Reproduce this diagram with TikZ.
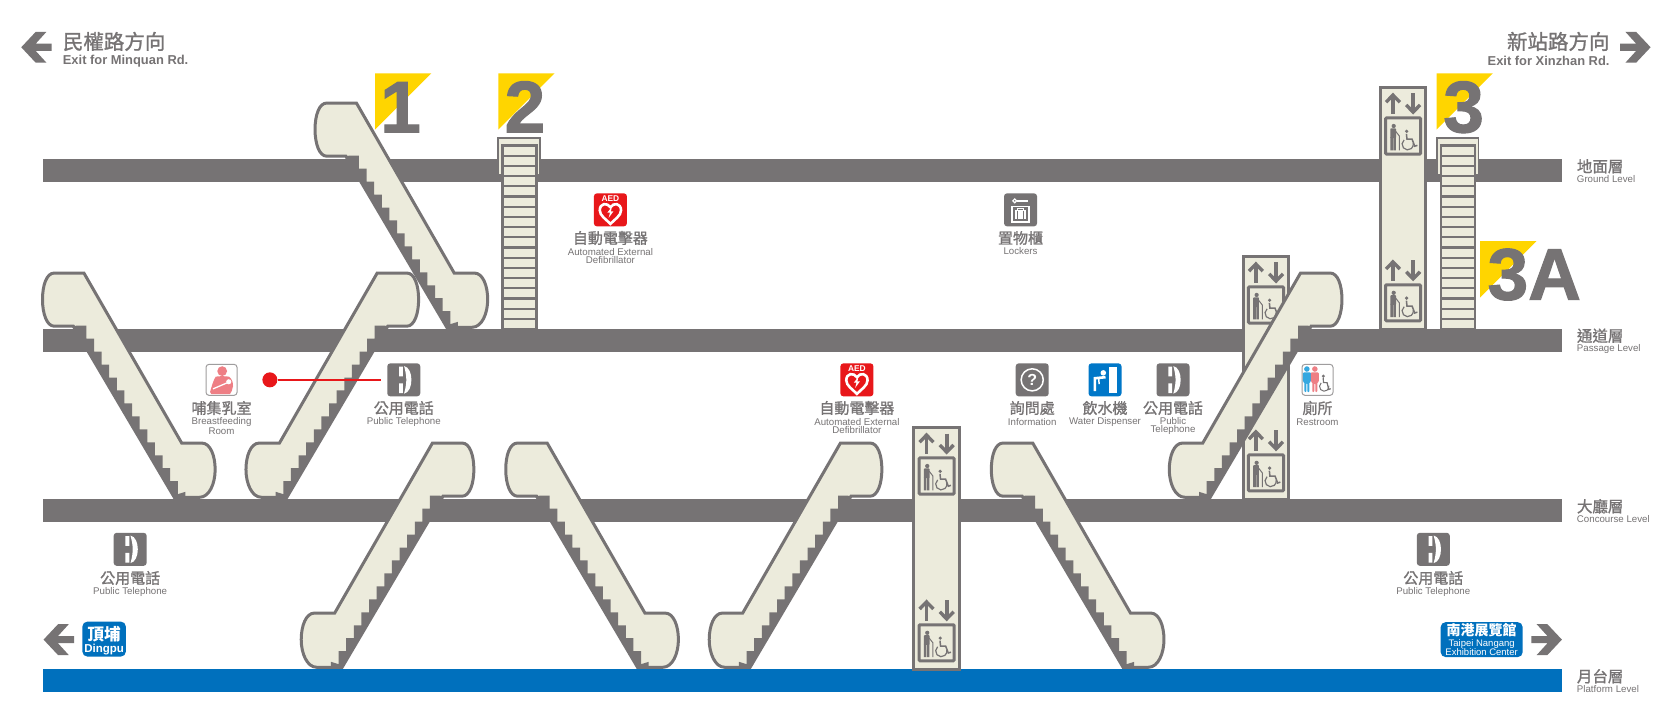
\documentclass[tikz,border=0pt]{standalone}
\usepackage{fontspec}
\setmainfont{Liberation Sans}
\newfontfamily\cjk{Noto Sans CJK TC}[FakeBold=1.2]
\newfontfamily\cjkb{Noto Sans CJK TC}
\newfontfamily\numfont{Liberation Sans}[BoldFeatures={FakeBold=1.5}]
\definecolor{barG}{HTML}{767374}
\definecolor{cream}{HTML}{ECEBDC}
\definecolor{lineB}{HTML}{0070BD}
\definecolor{flagY}{HTML}{FFD500}
\definecolor{sigR}{HTML}{E8171A}
\definecolor{pinkP}{HTML}{EE7F85}
\definecolor{manB}{HTML}{35A8E0}
\definecolor{waterB}{HTML}{0077C8}
\tikzset{
  levelbar/.style={fill=barG,draw=none},
  outl/.style={draw=barG,line width=3pt,fill=cream,line join=miter},
  flag/.style={fill=flagY,draw=none},
  num/.style={text=barG,font=\numfont\bfseries\fontsize{73}{73}\selectfont,inner sep=0pt,anchor=base},
  zhbig/.style={text=barG,font=\cjk\fontsize{20.5}{21}\selectfont,inner sep=0pt},
  enbig/.style={text=barG,font=\bfseries\fontsize{12.9}{13}\selectfont,inner sep=0pt},
  zhlv/.style={text=barG,font=\cjk\fontsize{15.5}{16}\selectfont,inner sep=0pt},
  zhic/.style={text=barG,font=\cjk\fontsize{15}{16}\selectfont,inner sep=0pt},
  enic/.style={text=barG,font=\fontsize{9.7}{8.4}\selectfont,inner sep=0pt,align=center},
  ibox/.style={rounded corners=3pt,minimum width=33pt,minimum height=33pt,inner sep=0pt,draw=none},
  esc/.pic={
    \path[outl] (0,0) -- (92,160) -- (111,160) .. controls (119,160) and (123.5,172) .. (123.5,185)
      .. controls (123.5,198) and (118,211) .. (109,211) -- (85,211) -- (-10,50) -- (-28,50)
      .. controls (-35,50) and (-39,38) .. (-39,25) .. controls (-39,11) and (-35,0) .. (-28,0) -- cycle;
    \fill[barG] (-10,50) -- (-6.8,49.5)
      \foreach \k in {0,...,12} { -- ({2.3+7.17*\k},{49.5+12.2*\k}) -- ({2.3+7.17*\k},{49.5+12.2*(\k+1)}) }
      -- (95.5,205.9) -- (95.5,212) -- (85,212) -- cycle;
  },
  stairway/.pic={
    \path[draw=barG,line width=1.8pt,fill=cream] (-4,-7) rectangle (35,28);
    \path[draw=barG,line width=2.4pt,fill=cream] (0,0) rectangle (32,173);
    \foreach \i in {1,...,17} \draw[barG,line width=2.2pt] (0,{\i*9.6}) -- (32,{\i*9.6});
  },
  liftgroup/.pic={
    \draw[barG,line width=3.8pt] (-9.5,19) -- (-9.5,2);
    \draw[barG,line width=3.4pt] (-16,8.2) -- (-9.5,1.5) -- (-3,8.2);
    \draw[barG,line width=3.8pt] (9.5,0) -- (9.5,17);
    \draw[barG,line width=3.4pt] (3,10.8) -- (9.5,17.5) -- (16,10.8);
    \draw[barG,line width=3pt,fill=cream,rounded corners=1pt] (-16.5,23) rectangle (16.5,57);
    \begin{scope}[shift={(0,40)}]
      \fill[barG] (-8.8,-9.4) circle (2);
      \fill[barG,rounded corners=0.8pt] (-12,-7.2) rectangle (-6.6,2);
      \fill[barG] (-12,1) rectangle (-9.6,13.5) (-9.0,1) rectangle (-6.8,13.5);
      \draw[barG,line width=1pt] (-7,-4.5) -- (-3.5,0) -- (-3.5,13.5);
      \fill[barG] (3.4,-4.4) circle (1.7);
      \draw[barG,line width=1.5pt] (3.2,-2) -- (3.7,3) -- (8.5,3) -- (11,9.6) -- (13.5,8.8);
      \draw[barG,line width=1.2pt] (1,3.7) arc[start angle=-130,end angle=-370,radius=5.3];
    \end{scope}
  },
  exitarrow/.pic={
    \fill[barG] (0,0) -- (13.6,-14.5) -- (23.7,-14.5) -- (13.6,-3.4) -- (28.7,-3.4) -- (28.7,3.4)
      -- (13.6,3.4) -- (23.7,14.5) -- (13.6,14.5) -- cycle;
  },
  phoneglyph/.pic={
    \fill[white] (-4.4,-12.5) rectangle (-0.8,-3.2) (-4.4,3.4) rectangle (-0.8,12.5);
    \fill[white] (0.3,-13) .. controls (5,-12) and (7.2,-6) .. (7.2,0) .. controls (7.2,6) and (5,12) .. (0.3,13)
      .. controls (2,7) and (2.4,3) .. (2.4,0) .. controls (2.4,-3) and (2,-7) .. (0.3,-13) -- cycle;
  },
  aedglyph/.pic={
    \node[text=white,font=\bfseries\fontsize{8.4}{9}\selectfont,inner sep=0pt] (aedt) at (0,-10.4) {AED};
    \draw[white,line width=2.6pt] (0,-2.5) .. controls (-3,-7) and (-10,-6.5) .. (-10,0.5) .. controls (-10,5.5) and (-4,9) .. (0,13.2)
      .. controls (4,9) and (10,5.5) .. (10,0.5) .. controls (10,-6.5) and (3,-7) .. (0,-2.5) -- cycle;
    \fill[white] (1.5,-3) -- (-2.8,2.5) -- (-0.4,2.5) -- (-1.6,7.5) -- (2.8,1.5) -- (0.4,1.5) -- cycle;
  },
  personshape/.pic={
    \fill (0,-10.2) circle (2.6);
    \fill[rounded corners=1pt] (-3.8,-7) -- (3.8,-7) -- (3.8,2) -- (2.4,2) -- (2.4,11.5) -- (0.4,11.5) -- (0.4,3) -- (-0.4,3) -- (-0.4,11.5) -- (-2.4,11.5) -- (-2.4,2) -- (-3.8,2) -- cycle;
  }
}
\begin{document}
\begin{tikzpicture}[x=1.0625pt,y=-1.0625pt]
\useasboundingbox (0,0) rectangle (1568,673);
\fill[white] (0,0) rectangle (1568,673);
% level bars
\fill[levelbar] (40,150) rectangle (1470,171);
\fill[levelbar] (40,310) rectangle (1470,331);
\fill[levelbar] (40,470) rectangle (1470,491);
\fill[lineB] (40,630) rectangle (1470,651);
% flags
\fill[flag] (353,69) -- (406,69) -- (353,122) -- cycle;
\fill[flag] (469,69) -- (522,69) -- (469,122) -- cycle;
\fill[flag] (1352,69) -- (1405,69) -- (1352,122) -- cycle;
\fill[flag] (1393,227) -- (1446,227) -- (1393,280) -- cycle;
\node[num] (n1) at (377,124.5) {1};
\node[num] (n2) at (494,124.5) {2};
\node[num] (n3) at (1377.5,124.5) {3};
\node[num] (n3a) at (1444,282) {3A};
% stairs
\pic at (473,137) {stairway};
\pic at (1356.5,137) {stairway};
% lifts
\path[outl] (860,402) rectangle (903,630);
\path[outl] (1299,82) rectangle (1342,310);
\path[outl] (1170,241) rectangle (1213,470);
\foreach \cx/\ty in {881.5/408,881.5/565,1320.5/88,1320.5/245,1191.5/247,1191.5/405}
  \pic at (\cx,\ty) {liftgroup};
% escalators
\foreach \cx/\ty in {335.5/97,79/257,515/417,972/417}
  \pic at (\cx,\ty) {esc};
\foreach \cx/\ty in {355/257,407/417,791/417,1224/257}
  \pic[xscale=-1] at (\cx,\ty) {esc};
% headers
\pic at (20,44.5) {exitarrow};
\pic[xscale=-1] at (1553.5,44.5) {exitarrow};
\node[zhbig,anchor=west] (hl) at (59,39) {民權路方向};
\node[enbig,anchor=west] (hle) at (59,57.5) {Exit for Minquan Rd.};
\node[zhbig,anchor=east] (hr) at (1515,39) {新站路方向};
\node[enbig,anchor=east] (hre) at (1515,57.5) {Exit for Xinzhan Rd.};
% level labels
\node[zhlv,anchor=west] (l1) at (1484,156.5) {地面層};
\node[enic,anchor=west] (l1e) at (1484,168.5) {Ground Level};
\node[zhlv,anchor=west] (l2) at (1484,316) {通道層};
\node[enic,anchor=west] (l2e) at (1484,328) {Passage Level};
\node[zhlv,anchor=west] (l3) at (1484,476.5) {大廳層};
\node[enic,anchor=west] (l3e) at (1484,488.5) {Concourse Level};
\node[zhlv,anchor=west] (l4) at (1484,636.5) {月台層};
\node[enic,anchor=west] (l4e) at (1484,648.5) {Platform Level};
% AED upper
\node[ibox,fill=sigR] (aed1) at (574.5,197.5) {};
\pic at (aed1) {aedglyph};
\node[zhic] (aed1z) at (574.5,224) {自動電擊器};
\node[enic] (aed1e) at (574.5,241) {Automated External\\Defibrillator};
% lockers
\node[ibox,fill=barG] (lock) at (960.5,197.5) {};
\begin{scope}[shift={(960.5,197.5)}]
  \draw[white,line width=1.2pt] (-5.5,-8.5) circle (1.8);
  \draw[white,line width=1.6pt] (-3.8,-8.5) -- (7,-8.5);
  \draw[white,line width=1.2pt] (-8,-3.5) rectangle (8,11.5);
  \fill[white] (-5,0.5) rectangle (5,9);
  \draw[white,line width=0.9pt] (-2.5,0.5) -- (-2.5,-1.5) -- (2.5,-1.5) -- (2.5,0.5);
  \draw[barG,line width=0.8pt] (-2.5,1) -- (-2.5,9) (2.5,1) -- (2.5,9);
\end{scope}
\node[zhic] (lockz) at (960.5,224) {置物櫃};
\node[enic] (locke) at (960.5,236.5) {Lockers};
% breastfeeding
\node[ibox,fill=white,draw=barG!70,line width=1pt,minimum width=31pt,minimum height=31pt] (bf) at (208.5,357.5) {};
\begin{scope}[shift={(208.5,357.5)}]
  \fill[pinkP] (0.6,-8.2) circle (4.6);
  \fill[pinkP] (-5.5,-3) .. controls (-2,-3.6) and (3,-3.6) .. (7,-3) .. controls (10,-1) and (11,3) .. (10.8,6)
    .. controls (10.5,9) and (9,12) .. (8,13.4) -- (-9.5,13.4) -- (-10.8,11.5) .. controls (-9.5,7) and (-8,1) .. (-5.5,-3) -- cycle;
  \draw[white,line width=1.3pt] (-8,8.5) -- (6,2.5);
  \fill[white] (6.8,1.8) circle (2.4);
\end{scope}
\node[zhic] (bfz) at (208.5,384) {哺集乳室};
\node[enic] (bfe) at (208.5,401) {Breastfeeding\\Room};
% telephone with pointer
\node[ibox,fill=barG] (tel1) at (380,357.5) {};
\pic at (tel1) {phoneglyph};
\node[zhic] (tel1z) at (380,384) {公用電話};
\node[enic] (tel1e) at (380,397.5) {Public Telephone};
\node[circle,fill=sigR,minimum size=15pt,inner sep=0pt] (dot) at (254,357.5) {};
\draw[sigR,line width=1.8pt,shorten >=6pt] (dot) -- (tel1);
% AED lower
\node[ibox,fill=sigR] (aed2) at (806.5,357.5) {};
\pic at (aed2) {aedglyph};
\node[zhic] (aed2z) at (806.5,384) {自動電擊器};
\node[enic] (aed2e) at (806.5,401) {Automated External\\Defibrillator};
% information
\node[ibox,fill=barG] (info) at (971.5,357.5) {};
\draw[white,line width=1.5pt] (971.5,357.5) circle (10.4);
\node[text=white,font=\bfseries\fontsize{16}{16}\selectfont,inner sep=0pt] (infoq) at (971.5,357.5) {?};
\node[zhic] (infoz) at (971.5,384) {詢問處};
\node[enic] (infoe) at (971.5,397.5) {Information};
% water
\node[ibox,fill=waterB] (water) at (1040,357.5) {};
\begin{scope}[shift={(1040,357.5)}]
  \fill[white] (3.9,-11.8) rectangle (11.4,12);
  \fill[white] (-1.6,-6.6) circle (2.6);
  \draw[white,line width=2.6pt] (-9.5,10.5) -- (-9.5,-1.5) -- (0.5,-2.5);
  \draw[white,line width=1.5pt] (-6,-2) -- (-5.5,4);
\end{scope}
\node[zhic] (waterz) at (1040,384) {飲水機};
\node[enic] (watere) at (1040,397.5) {Water Dispenser};
% telephone
\node[ibox,fill=barG] (tel2) at (1104,357.5) {};
\pic at (tel2) {phoneglyph};
\node[zhic] (tel2z) at (1104,384) {公用電話};
\node[enic] (tel2e) at (1104,401) {Public\\Telephone};
% restroom
\node[ibox,fill=white,draw=barG!70,line width=1pt,minimum width=31pt,minimum height=31pt] (wc) at (1240,357.5) {};
\begin{scope}[shift={(1240,357.5)}]
  \pic[manB] at (-10,0) {personshape};
  \pic[pinkP] at (-2.5,0) {personshape};
  \fill[barG] (5.5,-3.5) circle (1.6);
  \draw[barG,line width=1.2pt] (5.4,-2) -- (5.6,2.6) -- (9,2.6) -- (10.5,9) -- (12.5,8.4);
  \draw[barG,line width=1pt] (3.47,2.93) arc[start angle=-130,end angle=-370,radius=4.4];
\end{scope}
\node[zhic] (wcz) at (1240,384) {廁所};
\node[enic] (wce) at (1240,397.5) {Restroom};
% concourse telephones
\node[ibox,fill=barG] (tel3) at (122.5,517) {};
\pic at (tel3) {phoneglyph};
\node[zhic] (tel3z) at (122.5,544) {公用電話};
\node[enic] (tel3e) at (122.5,557) {Public Telephone};
\node[ibox,fill=barG] (tel4) at (1349,517) {};
\pic at (tel4) {phoneglyph};
\node[zhic] (tel4z) at (1349,544) {公用電話};
\node[enic] (tel4e) at (1349,557) {Public Telephone};
% destinations
\pic at (41,602) {exitarrow};
\pic[xscale=-1] at (1470,602) {exitarrow};
\node[fill=lineB,rounded corners=5pt,minimum width=43.5pt,minimum height=35pt,inner sep=0pt] (dp) at (98,601.5) {};
\node[text=white,font=\cjkb\bfseries\fontsize{16.5}{17}\selectfont,inner sep=0pt] (dpz) at (98,596.5) {頂埔};
\node[text=white,font=\bfseries\fontsize{11.5}{12}\selectfont,inner sep=0pt] (dpe) at (98,611) {Dingpu};
\node[fill=lineB,rounded corners=5pt,minimum width=82pt,minimum height=35pt,inner sep=0pt] (ng) at (1394.5,602) {};
\node[text=white,font=\cjkb\bfseries\fontsize{14}{15}\selectfont,inner sep=0pt] (ngz) at (1394.5,593.5) {南港展覽館};
\node[text=white,font=\fontsize{9.5}{10}\selectfont,inner sep=0pt] (nge1) at (1394.5,606) {Taipei Nangang};
\node[text=white,font=\fontsize{9.5}{10}\selectfont,inner sep=0pt] (nge2) at (1394.5,614) {Exhibition Center};
\end{tikzpicture}
\end{document}
